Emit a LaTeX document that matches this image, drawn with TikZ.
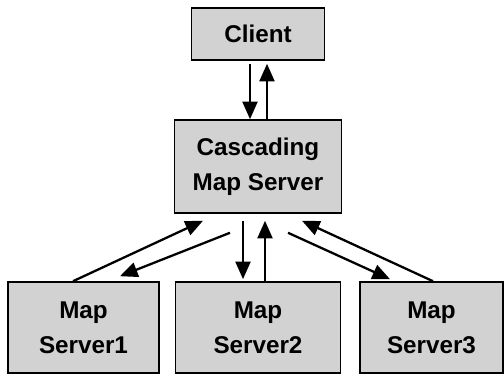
\documentclass[tikz,border=0pt]{standalone}
\usepackage{fontspec}
\setmainfont{Liberation Sans}
\usepackage{tikz}
\usetikzlibrary{arrows.meta,positioning,calc}

\begin{document}
\begin{tikzpicture}[
  x=0.02cm, y=-0.02cm,
  box/.style={rectangle, draw, line width=0.9pt, fill=gray!35, align=center,
              inner sep=2pt, font=\fontsize{13.8}{20}\selectfont\bfseries},
  arr/.style={-{Triangle[length=10pt, width=8.5pt]}, line width=1.3pt}
]
\useasboundingbox (0,0) rectangle (504,378);
\node[box, minimum width=2.66cm, minimum height=1.04cm] (client) at (258, 34)    {Client};
\node[box, minimum width=3.34cm, minimum height=1.86cm] (cms)    at (258, 166.5) {Cascading\\Map Server};
\node[box, minimum width=3.02cm, minimum height=1.82cm] (ms1)    at (83.5, 327.5) {Map\\Server1};
\node[box, minimum width=3.30cm, minimum height=1.82cm] (ms2)    at (258, 327.5)  {Map\\Server2};
\node[box, minimum width=2.86cm, minimum height=1.82cm] (ms3)    at (431.5, 327.5) {Map\\Server3};
% client <-> cascading server
\draw[arr] ([shift={(-8,3)}]client.south) -- ([xshift=-8*0.02cm]cms.north);
\draw[arr] ([xshift=9*0.02cm]cms.north) -- ([shift={(9,3)}]client.south);
% cascading server <-> map servers
\draw[arr] ([xshift=-10.5*0.02cm]ms1.north) -- ([shift={(-55,7)}]cms.south);
\draw[arr] ([shift={(-28,19)}]cms.south) -- ([shift={(36.5,-5)}]ms1.north);
\draw[arr] ([shift={(-15,7)}]cms.south) -- ([shift={(-15,-2)}]ms2.north);
\draw[arr] ([xshift=7*0.02cm]ms2.north) -- ([shift={(7,7)}]cms.south);
\draw[arr] ([shift={(30,19)}]cms.south) -- ([shift={(-41.5,-2)}]ms3.north);
\draw[arr] ([xshift=1.5*0.02cm]ms3.north) -- ([shift={(44,7)}]cms.south);
\end{tikzpicture}
\end{document}
